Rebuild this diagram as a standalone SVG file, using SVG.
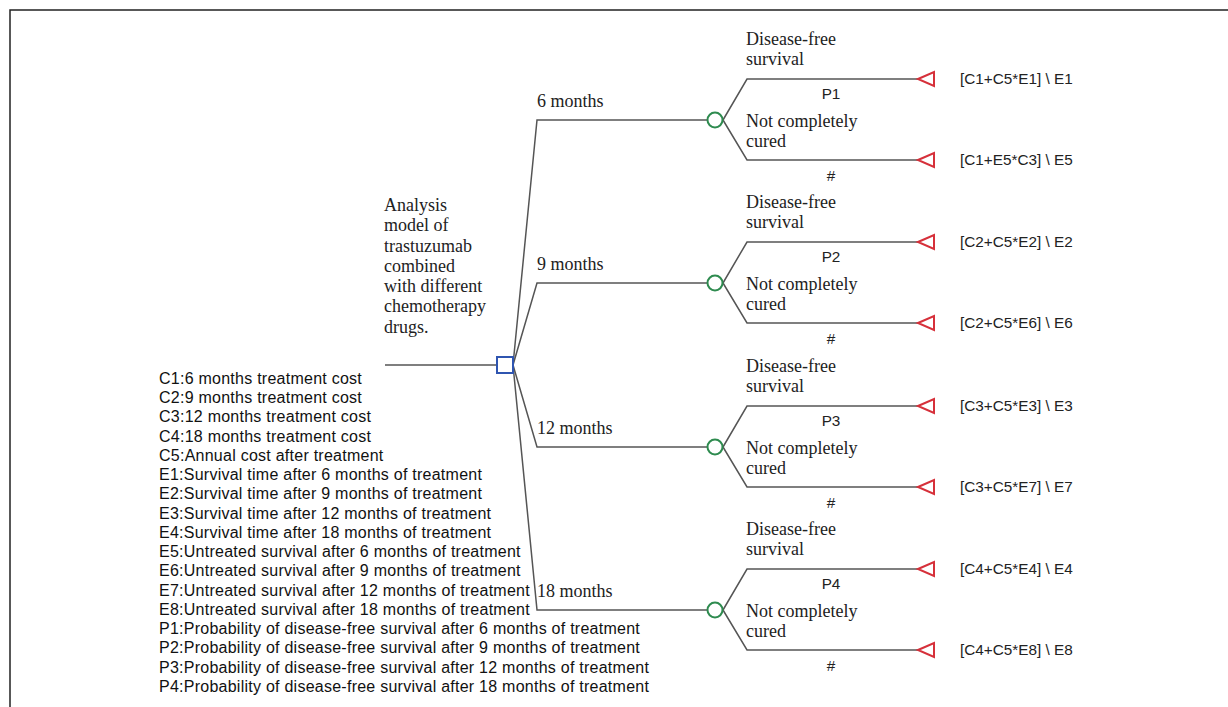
<svg xmlns="http://www.w3.org/2000/svg" width="1228" height="707" viewBox="0 0 1228 707">
<style>
.ln{fill:none;stroke:#555;stroke-width:1.5}
.serif{font-family:"Liberation Serif","Times New Roman",serif;font-size:18px;fill:#222}
.sans{font-family:"Liberation Sans",Arial,sans-serif;font-size:15.3px;fill:#222}
.leg{font-family:"Liberation Sans",Arial,sans-serif;font-size:16px;letter-spacing:0.25px;fill:#111}
.chance{fill:#fff;stroke:#2e8b4f;stroke-width:2}
.term{fill:#fff;stroke:#d6303a;stroke-width:2;stroke-linejoin:miter}
.dec{fill:#fff;stroke:#2f55b0;stroke-width:2}
</style>
<defs>
<g id="sub">
<path class="ln" d="M723,0 L747,-41 H918 M723,0 L747,40 H918"/>
<circle class="chance" cx="715" cy="0" r="7.5"/>
<polygon class="term" points="918,-41 934,-48 934,-34"/>
<polygon class="term" points="918,40 934,33 934,47"/>
</g>
</defs>
<rect x="0" y="0" width="1228" height="707" fill="#fff"/>
<path d="M10,707 V10 H1228" fill="none" stroke="#222" stroke-width="1.5"/>

<g id="connectors">
<path class="ln" d="M385,365 H497"/>
<path class="ln" d="M513,365 L537,120 H707"/>
<path class="ln" d="M513,365 L537,283 H707"/>
<path class="ln" d="M513,365 L537,447 H707"/>
<path class="ln" d="M513,365 L537,610 H707"/>
</g>

<g id="root">
<rect class="dec" x="497" y="357" width="16" height="16"/>
<text class="serif"><tspan x="384" y="211">Analysis</tspan><tspan x="384" y="231">model of</tspan><tspan x="384" y="252">trastuzumab</tspan><tspan x="384" y="272">combined</tspan><tspan x="384" y="292">with different</tspan><tspan x="384" y="312">chemotherapy</tspan><tspan x="384" y="333">drugs.</tspan></text>
</g>

<g id="branch-labels" class="serif">
<text x="537" y="107">6 months</text>
<text x="537" y="270">9 months</text>
<text x="537" y="434">12 months</text>
<text x="537" y="597">18 months</text>
</g>

<g id="chance1" transform="translate(0,120)">
<use href="#sub"/>
<text class="serif"><tspan x="746" y="-75">Disease-free</tspan><tspan x="746" y="-55">survival</tspan><tspan x="746" y="7">Not completely</tspan><tspan x="746" y="27">cured</tspan></text>
<text class="sans" x="831" y="-21" text-anchor="middle">P1</text>
<text class="sans" x="831" y="61" text-anchor="middle">#</text>
<text class="sans" x="960" y="-36">[C1+C5*E1] \ E1</text>
<text class="sans" x="960" y="45">[C1+E5*C3] \ E5</text>
</g>

<g id="chance2" transform="translate(0,283)">
<use href="#sub"/>
<text class="serif"><tspan x="746" y="-75">Disease-free</tspan><tspan x="746" y="-55">survival</tspan><tspan x="746" y="7">Not completely</tspan><tspan x="746" y="27">cured</tspan></text>
<text class="sans" x="831" y="-21" text-anchor="middle">P2</text>
<text class="sans" x="831" y="61" text-anchor="middle">#</text>
<text class="sans" x="960" y="-36">[C2+C5*E2] \ E2</text>
<text class="sans" x="960" y="45">[C2+C5*E6] \ E6</text>
</g>

<g id="chance3" transform="translate(0,447)">
<use href="#sub"/>
<text class="serif"><tspan x="746" y="-75">Disease-free</tspan><tspan x="746" y="-55">survival</tspan><tspan x="746" y="7">Not completely</tspan><tspan x="746" y="27">cured</tspan></text>
<text class="sans" x="831" y="-21" text-anchor="middle">P3</text>
<text class="sans" x="831" y="61" text-anchor="middle">#</text>
<text class="sans" x="960" y="-36">[C3+C5*E3] \ E3</text>
<text class="sans" x="960" y="45">[C3+C5*E7] \ E7</text>
</g>

<g id="chance4" transform="translate(0,610)">
<use href="#sub"/>
<text class="serif"><tspan x="746" y="-75">Disease-free</tspan><tspan x="746" y="-55">survival</tspan><tspan x="746" y="7">Not completely</tspan><tspan x="746" y="27">cured</tspan></text>
<text class="sans" x="831" y="-21" text-anchor="middle">P4</text>
<text class="sans" x="831" y="61" text-anchor="middle">#</text>
<text class="sans" x="960" y="-36">[C4+C5*E4] \ E4</text>
<text class="sans" x="960" y="45">[C4+C5*E8] \ E8</text>
</g>

<g id="legend" class="leg">
<text x="159" y="384">C1:6 months treatment cost</text>
<text x="159" y="403">C2:9 months treatment cost</text>
<text x="159" y="422">C3:12 months treatment cost</text>
<text x="159" y="442">C4:18 months treatment cost</text>
<text x="159" y="461">C5:Annual cost after treatment</text>
<text x="159" y="480">E1:Survival time after 6 months of treatment</text>
<text x="159" y="499">E2:Survival time after 9 months of treatment</text>
<text x="159" y="519">E3:Survival time after 12 months of treatment</text>
<text x="159" y="538">E4:Survival time after 18 months of treatment</text>
<text x="159" y="557">E5:Untreated survival after 6 months of treatment</text>
<text x="159" y="576">E6:Untreated survival after 9 months of treatment</text>
<text x="159" y="596">E7:Untreated survival after 12 months of treatment</text>
<text x="159" y="615">E8:Untreated survival after 18 months of treatment</text>
<text x="159" y="634">P1:Probability of disease-free survival after 6 months of treatment</text>
<text x="159" y="653">P2:Probability of disease-free survival after 9 months of treatment</text>
<text x="159" y="673">P3:Probability of disease-free survival after 12 months of treatment</text>
<text x="159" y="692">P4:Probability of disease-free survival after 18 months of treatment</text>
</g>
</svg>
